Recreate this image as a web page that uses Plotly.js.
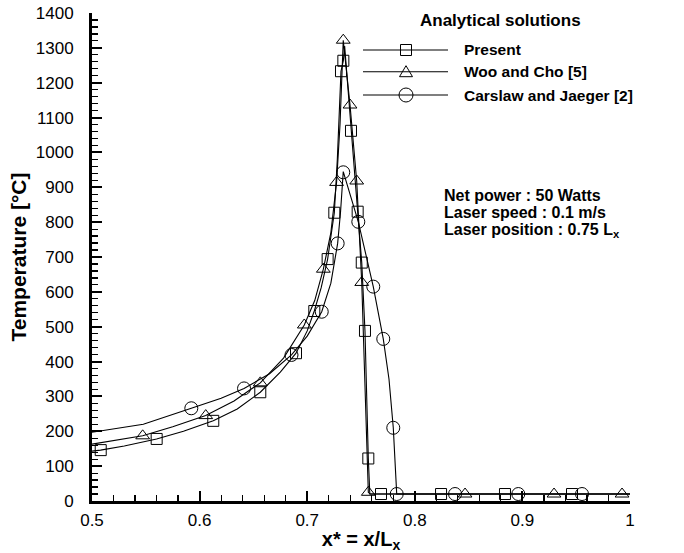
<!DOCTYPE html>
<html>
<head>
<meta charset="utf-8">
<script src="https://cdn.plot.ly/plotly-3.0.1.min.js"></script>
<style>html,body{margin:0;padding:0;background:#fff}#chart{width:684px;height:553px}</style>
</head>
<body>
<div id="chart"></div>
<script>
// ---- Data ----
var seriesNames = ["Present", "Woo and Cho [5]", "Carslaw and Jaeger [2]"];

// Present: curve points
var presentLineX = [0.5, 0.508, 0.53, 0.56, 0.585, 0.6127, 0.635, 0.6564, 0.675, 0.6896, 0.7, 0.7066, 0.713, 0.719, 0.7252, 0.728, 0.7314, 0.7336, 0.7348, 0.7407, 0.7469, 0.7507, 0.7537, 0.7568, 0.7582, 0.7686, 0.8244, 0.8838, 0.9461, 1.0];
var presentLineY = [143, 146, 158, 178, 200, 230, 264, 312, 370, 424, 488, 545, 612, 694, 827, 980, 1233, 1263, 1305, 1062, 830, 684, 488, 122, 20, 20, 20, 20, 20, 20];
// Present: symbol points
var presentMarkX = [0.5081, 0.5601, 0.6127, 0.6564, 0.6896, 0.7066, 0.719, 0.7252, 0.7314, 0.7336, 0.7407, 0.7469, 0.7507, 0.7537, 0.7568, 0.7686, 0.8244, 0.8838, 0.9461];
var presentMarkY = [146, 178, 230, 312, 424, 545, 694, 827, 1233, 1263, 1062, 830, 684, 488, 122, 20, 20, 20, 20];

// Woo and Cho [5]
var wooLineX = [0.5, 0.5471, 0.575, 0.6057, 0.632, 0.6564, 0.678, 0.6973, 0.707, 0.715, 0.722, 0.7273, 0.7305, 0.7335, 0.7398, 0.746, 0.7507, 0.7568, 0.7585, 0.8467, 0.9294, 1.0];
var wooLineY = [163, 187, 213, 245, 287, 339, 410, 505, 575, 665, 770, 914, 1080, 1322, 1136, 918, 627, 25, 20, 20, 20, 20];
var wooMarkX = [0.5471, 0.6057, 0.6564, 0.6973, 0.715, 0.7273, 0.7335, 0.7398, 0.746, 0.7507, 0.7568, 0.8467, 0.9294, 0.9926];
var wooMarkY = [187, 245, 339, 505, 665, 914, 1322, 1136, 918, 627, 25, 20, 20, 20];

// Carslaw and Jaeger [2]
var carsLineX = [0.5, 0.5477, 0.5923, 0.62, 0.6413, 0.665, 0.6854, 0.70, 0.7135, 0.722, 0.7283, 0.731, 0.7335, 0.7475, 0.7614, 0.7707, 0.776, 0.780, 0.7832, 0.8374, 0.8962, 0.9554, 1.0];
var carsLineY = [197, 220, 266, 295, 323, 365, 419, 473, 543, 625, 739, 830, 945, 801, 615, 465, 350, 210, 20, 20, 20, 20, 20];
var carsMarkX = [0.5923, 0.6413, 0.6854, 0.7135, 0.7283, 0.7335, 0.7475, 0.7614, 0.7707, 0.780, 0.7832, 0.8374, 0.8962, 0.9554];
var carsMarkY = [266, 323, 419, 543, 739, 943, 801, 615, 465, 210, 20, 20, 20, 20];

var legendTitle = "Analytical solutions";
var noteLines = ["Net power : 50 Watts", "Laser speed : 0.1 m/s", "Laser position : 0.75 L<sub>x</sub>"];
var xTitle = "x* = x/L<sub>x</sub>";
var yTitle = "Temperature [°C]";

// ---- Styling / construction ----
var FONT = "Liberation Sans, Arial, Helvetica, sans-serif";
var symbols = ["square-open", "triangle-up-open", "circle-open"];
var sizes = [11, 12, 13];
var lineSets = [[presentLineX, presentLineY], [wooLineX, wooLineY], [carsLineX, carsLineY]];
var markSets = [[presentMarkX, presentMarkY], [wooMarkX, wooMarkY], [carsMarkX, carsMarkY]];

var traces = [];
for (var i = 0; i < 3; i++) {
  traces.push({x: lineSets[i][0], y: lineSets[i][1], mode: "lines", name: seriesNames[i],
    line: {color: "black", width: 1.1}, showlegend: false, hoverinfo: "skip"});
}
for (var j = 0; j < 3; j++) {
  traces.push({x: markSets[j][0], y: markSets[j][1], mode: "markers", name: seriesNames[j],
    marker: {symbol: symbols[j], size: sizes[j], color: "black", line: {color: "black", width: 1}},
    showlegend: false});
}

// plot-area geometry in pixels (for the hand-made legend)
var L = 92, T = 13, W = 538, H = 488;
function px(x) { return (x - L) / W; }
function py(y) { return (T + H - y) / H; }

var legendRowsY = [50, 71.7, 95];
var shapes = [];
var annotations = [];
annotations.push({xref: "paper", yref: "paper", x: px(500), y: py(20), xanchor: "center", yanchor: "middle",
  text: "<b>" + legendTitle + "</b>", showarrow: false, font: {family: FONT, size: 17, color: "black"}});
for (var k = 0; k < 3; k++) {
  var yy = py(legendRowsY[k]);
  shapes.push({type: "line", xref: "paper", yref: "paper", x0: px(363), x1: px(448), y0: yy, y1: yy,
    line: {color: "black", width: 1.1}});
  annotations.push({xref: "paper", yref: "paper", x: px(462), y: yy, xanchor: "left", yanchor: "middle",
    text: "<b>" + seriesNames[k] + "</b>", showarrow: false, font: {family: FONT, size: 15.5, color: "black"}});
}
var mx = px(406);
shapes.push({type: "rect", xref: "paper", yref: "paper", xsizemode: "pixel", ysizemode: "pixel",
  xanchor: mx, yanchor: py(legendRowsY[0]), x0: -5.5, x1: 5.5, y0: -5.5, y1: 5.5,
  line: {color: "black", width: 1}, fillcolor: "rgba(0,0,0,0)"});
shapes.push({type: "path", xref: "paper", yref: "paper", xsizemode: "pixel", ysizemode: "pixel",
  xanchor: mx, yanchor: py(legendRowsY[1]), path: "M-6.5,-5L6.5,-5L0,6Z",
  line: {color: "black", width: 1}, fillcolor: "rgba(0,0,0,0)"});
shapes.push({type: "circle", xref: "paper", yref: "paper", xsizemode: "pixel", ysizemode: "pixel",
  xanchor: mx, yanchor: py(legendRowsY[2]), x0: -7, x1: 7, y0: -7, y1: 7,
  line: {color: "black", width: 1}, fillcolor: "rgba(0,0,0,0)"});

var noteY = [195, 212, 230];
for (var n = 0; n < noteLines.length; n++) {
  annotations.push({xref: "paper", yref: "paper", x: px(442), y: py(noteY[n]), xanchor: "left", yanchor: "middle",
    text: "<b>" + noteLines[n] + "</b>", showarrow: false, font: {family: FONT, size: 16, color: "black"}});
}

var axisCommon = {
  showline: true, linecolor: "black", linewidth: 3, showgrid: false, zeroline: false,
  ticks: "inside", ticklen: 10, tickwidth: 2, tickcolor: "black",
  tickfont: {family: FONT, size: 17, color: "black"}, automargin: false, mirror: false
};

var layout = {
  width: 684, height: 553,
  margin: {l: L, r: 684 - L - W, t: T, b: 553 - T - H, pad: 0},
  paper_bgcolor: "white", plot_bgcolor: "white",
  showlegend: false,
  xaxis: Object.assign({}, axisCommon, {
    range: [0.5, 1.0], dtick: 0.1, tick0: 0.5, tickformat: "~g",
    minor: {dtick: 0.02, ticks: "inside", ticklen: 6, tickwidth: 1.2, tickcolor: "black", showgrid: false},
    ticklabelstandoff: 2,
    title: {text: "<b>" + xTitle + "</b>", font: {family: FONT, size: 20, color: "black"}, standoff: 4}
  }),
  yaxis: Object.assign({}, axisCommon, {
    range: [0, 1400], dtick: 100, tick0: 0,
    minor: {dtick: 20, ticks: "inside", ticklen: 6, tickwidth: 1.2, tickcolor: "black", showgrid: false},
    ticklabelstandoff: 12,
    title: {text: "<b>" + yTitle + "</b>", font: {family: FONT, size: 21, color: "black"}, standoff: 4}
  }),
  shapes: shapes,
  annotations: annotations
};

Plotly.newPlot("chart", traces, layout, {displayModeBar: false, staticPlot: true});
</script>
</body>
</html>
